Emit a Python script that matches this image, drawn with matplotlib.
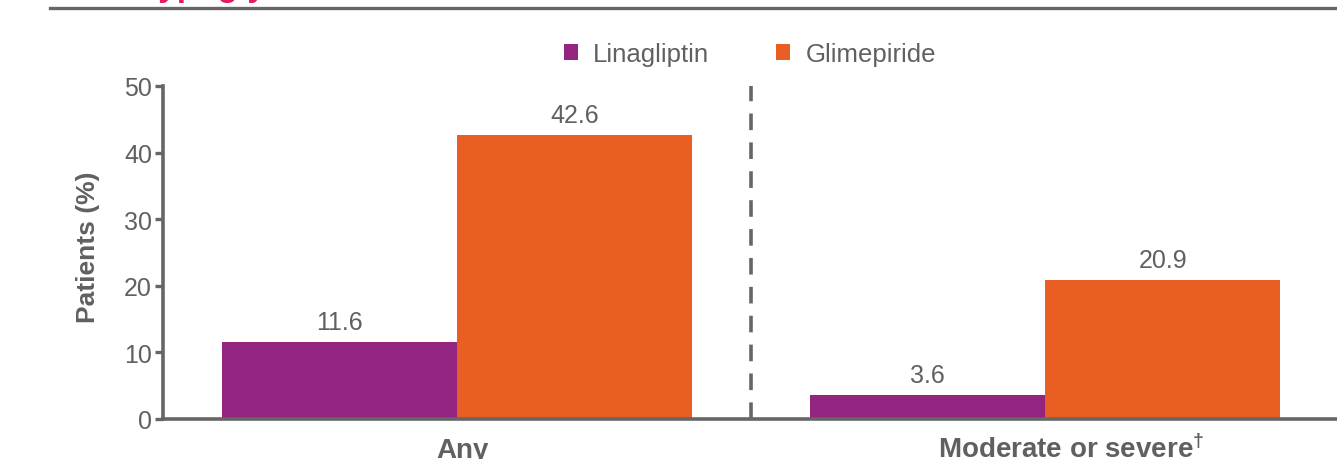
import matplotlib.pyplot as plt
import numpy as np
from matplotlib import transforms

plt.rcParams["font.family"] = ["Liberation Sans", "DejaVu Sans"]
plt.rcParams["mathtext.fontset"] = "custom"
plt.rcParams["mathtext.rm"] = "Liberation Sans"
plt.rcParams["mathtext.bf"] = "Liberation Sans:bold"

categories = ["Any", "Moderate or severe$^{\\mathbf{\\dagger}}$"]
series_names = ["Linagliptin", "Glimepiride"]
linagliptin = [11.6, 3.6]
glimepiride = [42.6, 20.9]
y_ticks = [0, 10, 20, 30, 40, 50]

PURPLE = "#93247f"
ORANGE = "#e95e23"
GREY = "#666666"
TEXT = "#606060"
PINK = "#e5195e"

W, H = 1337, 460
fig = plt.figure(figsize=(W / 100, H / 100), dpi=100)
ax = fig.add_axes([163 / W, 40 / H, 1176 / W, 333 / H])

x = np.arange(len(categories))
width = 0.4
b1 = ax.bar(x - width / 2, linagliptin, width, color=PURPLE, label=series_names[0])
b2 = ax.bar(x + width / 2, glimepiride, width, color=ORANGE, label=series_names[1])

for bars, vals in ((b1, linagliptin), (b2, glimepiride)):
    for bar, v in zip(bars, vals):
        ax.annotate(f"{v:.1f}", (bar.get_x() + bar.get_width() / 2, v),
                    xytext=(0, 9.5), textcoords="offset points",
                    ha="center", va="baseline", fontsize=18, color=TEXT)

# dashed divider between the two groups, drawn upwards from the axis
ax.plot([0.5, 0.5], [0, 50], color=GREY, lw=2.6, ls=(0, (4.6, 3.4)),
        solid_capstyle="butt", dash_capstyle="butt", clip_on=False)

ax.set_xlim(-0.5, 1.5)
ax.set_ylim(0, 50)
ax.set_yticks(y_ticks)
ax.set_xticks(x)
ax.set_xticklabels([])
ax.tick_params(axis="x", length=0)
ax.tick_params(axis="y", labelsize=18, labelcolor=TEXT, color=GREY, width=2.4,
               length=6, pad=2)
for side in ("top", "right"):
    ax.spines[side].set_visible(False)
for side in ("left", "bottom"):
    ax.spines[side].set_color(GREY)
    ax.spines[side].set_linewidth(2.6)
ax.set_ylabel("Patients (%)", fontsize=19, fontweight="bold", color=TEXT)
ax.yaxis.set_label_coords(-(163 - 100) / 1176, (253 - 247) / 333 + 0.5)

# category names sit low, partly below the figure edge
label_shift = [0.01, 0.044]
below = transforms.ScaledTranslation(0, -0.38, fig.dpi_scale_trans)
for xi, name, dx in zip(x, categories, label_shift):
    ax.text(xi + dx, 0, name, transform=ax.get_xaxis_transform() + below,
            fontsize=20, fontweight="bold", color=TEXT, ha="center", va="baseline")

leg = fig.legend(handles=[b1, b2], loc="center", bbox_to_anchor=(750 / W, 1 - 55 / H),
                 ncol=2, frameon=False, fontsize=18.5, handlelength=0.55, handleheight=0.55,
                 handletextpad=0.6, columnspacing=2.6)
for t in leg.get_texts():
    t.set_color(TEXT)

# header rule and title above it
fig.add_artist(plt.Line2D([50 / W, 1], [1 - 9 / H, 1 - 9 / H],
                          transform=fig.transFigure, color=GREY, lw=2.4))
fig.text(135 / W, 1 + 4 / H, "Hypoglycaemia", fontsize=24, fontweight="bold",
         color=PINK, ha="left", va="baseline")

fig.savefig("out.png", dpi=100)
